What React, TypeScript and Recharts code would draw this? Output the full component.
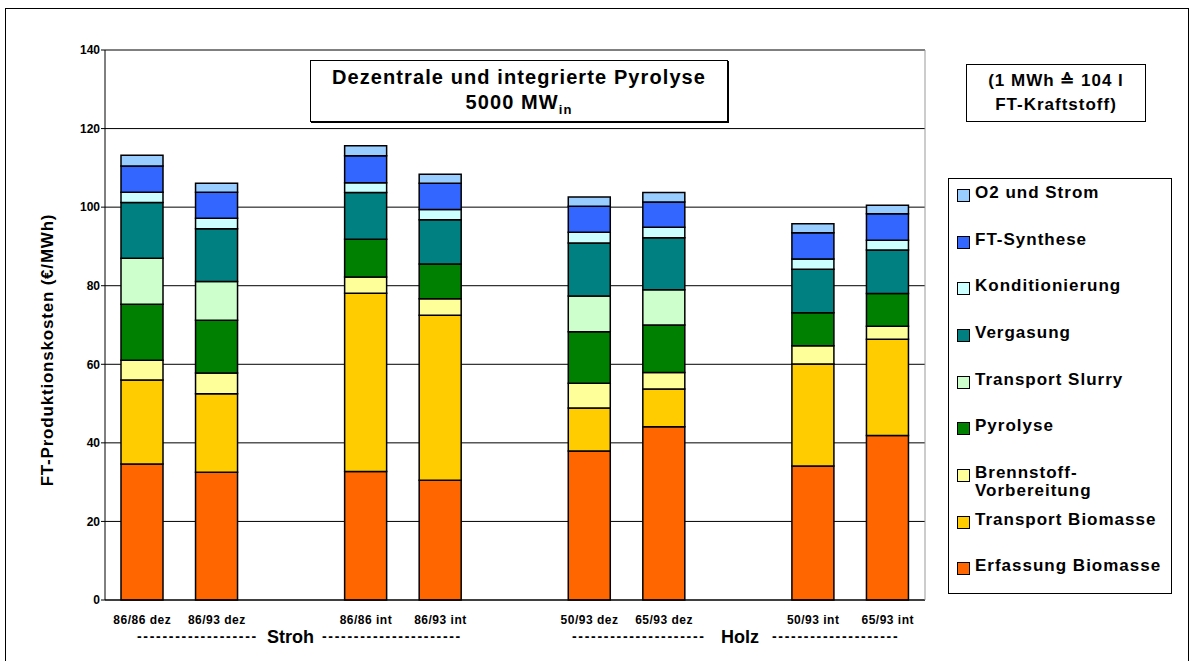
import React from 'react';
import { BarChart, Bar, XAxis, YAxis, CartesianGrid } from 'recharts';

const categories = ['86/86 dez', '86/93 dez', ' ', '86/86 int', '86/93 int', '  ', '50/93 dez', '65/93 dez', '   ', '50/93 int', '65/93 int'];

const erfassung = [34.6, 32.5, null, 32.7, 30.5, null, 37.9, 44.1, null, 34.1, 41.9];
const transportBio = [21.4, 20.0, null, 45.4, 42.0, null, 11.0, 9.6, null, 26.0, 24.5];
const brennstoff = [5.0, 5.3, null, 4.1, 4.2, null, 6.3, 4.2, null, 4.6, 3.3];
const pyrolyse = [14.3, 13.4, null, 9.6, 8.8, null, 13.1, 12.1, null, 8.4, 8.3];
const slurry = [11.7, 9.9, null, 0, 0, null, 9.1, 9.0, null, 0, 0];
const vergasung = [14.2, 13.4, null, 11.9, 11.3, null, 13.5, 13.2, null, 11.1, 11.1];
const kondition = [2.6, 2.7, null, 2.5, 2.6, null, 2.7, 2.7, null, 2.6, 2.5];
const ftSynthese = [6.7, 6.6, null, 6.9, 6.7, null, 6.6, 6.4, null, 6.7, 6.7];
const o2Strom = [2.7, 2.3, null, 2.5, 2.3, null, 2.4, 2.4, null, 2.3, 2.2];

const yTicks = [0, 20, 40, 60, 80, 100, 120, 140];

const series = [
  { key: 'erf', name: 'Erfassung Biomasse', color: '#FF6600', values: erfassung },
  { key: 'tb', name: 'Transport Biomasse', color: '#FFCC00', values: transportBio },
  { key: 'bv', name: 'Brennstoff-\nVorbereitung', color: '#FFFF99', values: brennstoff },
  { key: 'py', name: 'Pyrolyse', color: '#008000', values: pyrolyse },
  { key: 'ts', name: 'Transport Slurry', color: '#CCFFCC', values: slurry },
  { key: 'vg', name: 'Vergasung', color: '#008080', values: vergasung },
  { key: 'ko', name: 'Konditionierung', color: '#CCFFFF', values: kondition },
  { key: 'ft', name: 'FT-Synthese', color: '#3366FF', values: ftSynthese },
  { key: 'o2', name: 'O2 und Strom', color: '#99CCFF', values: o2Strom },
];

const data = categories.map((c, i) => {
  const row: any = { cat: c };
  series.forEach((s) => {
    row[s.key] = s.values[i];
  });
  return row;
});

const FONT = 'Arial, "Liberation Sans", Helvetica, sans-serif';

const legendTops = [183, 230, 276, 323, 370, 416, 463, 510, 556];

const dashStyle: React.CSSProperties = { position: 'absolute', top: 628, whiteSpace: 'pre', fontWeight: 700, fontSize: 14, letterSpacing: 1.7, lineHeight: '16px' };
const groupStyle: React.CSSProperties = { position: 'absolute', top: 627, whiteSpace: 'pre', fontWeight: 700, fontSize: 18, lineHeight: '20px' };

export default function App() {
  const legendItems = [...series].reverse();
  return (
    <div style={{ position: 'absolute', left: 0, top: 0, width: 1195, height: 661, background: '#fff', fontFamily: FONT, overflow: 'hidden' }}>
      <div style={{ position: 'absolute', left: 5, top: 8, width: 1184, height: 660, border: '1px solid #000', boxSizing: 'border-box' }} />
      <div style={{ position: 'absolute', left: 0, top: 0 }}>
        <BarChart width={1195} height={661} data={data} margin={{ top: 50, right: 269, bottom: 31, left: 65 }} barSize={42}>
          <CartesianGrid vertical={false} stroke="#000" strokeWidth={1} />
          <XAxis
            dataKey="cat"
            tickLine={false}
            axisLine={{ stroke: '#000' }}
            tickMargin={9}
            interval={0}
            tick={{ fill: '#000', fontSize: 12, fontWeight: 700, fontFamily: FONT, letterSpacing: 0.5 }}
            height={30}
          />
          <YAxis
            domain={[0, 140]}
            ticks={yTicks}
            width={40}
            axisLine={{ stroke: '#000' }}
            tickLine={{ stroke: '#000' }}
            tickSize={4}
            tickMargin={1}
            tick={{ fill: '#000', fontSize: 12, fontWeight: 700, fontFamily: FONT }}
            interval={0}
          />
          <YAxis yAxisId="r" orientation="right" width={1} tick={false} tickLine={false} axisLine={{ stroke: '#999' }} />
          {series.map((s) => (
            <Bar key={s.key} dataKey={s.key} name={s.name} stackId="a" fill={s.color} stroke="#000" strokeWidth={1.5} isAnimationActive={false} />
          ))}
        </BarChart>
      </div>

      <div style={{ position: 'absolute', left: 48, top: 350, width: 0, height: 0 }}>
        <div style={{ position: 'absolute', left: 0, top: 0, transform: 'translate(-50%, -50%) rotate(-90deg)', whiteSpace: 'nowrap', fontSize: 17, fontWeight: 700, letterSpacing: 0.8 }}>
          FT-Produktionskosten (€/MWh)
        </div>
      </div>

      <div style={{ position: 'absolute', left: 310, top: 60, width: 418, height: 62, border: '1px solid #000', boxShadow: '1px 1px 0 #000', background: '#fff', boxSizing: 'border-box', textAlign: 'center', fontWeight: 700, fontSize: 20, letterSpacing: 1.1, lineHeight: '25px', paddingTop: 4 }}>
        <div>Dezentrale und integrierte Pyrolyse</div>
        <div>5000 MW<sub style={{ fontSize: 13 }}>in</sub></div>
      </div>

      <div style={{ position: 'absolute', left: 966, top: 64, width: 180, height: 58, border: '1px solid #000', boxSizing: 'border-box', textAlign: 'center', fontWeight: 700, fontSize: 17, letterSpacing: 1, lineHeight: '24px', paddingTop: 4 }}>
        <div>(1 MWh ≙ 104 l</div>
        <div>FT-Kraftstoff)</div>
      </div>

      <div style={{ position: 'absolute', left: 948, top: 178, width: 224, height: 416, border: '1px solid #000', boxSizing: 'border-box' }}>
        {legendItems.map((s, i) => (
          <div key={s.key} style={{ position: 'absolute', left: 8, top: legendTops[i] - 178, display: 'flex', alignItems: 'flex-start' }}>
            <div style={{ width: 11, height: 11, background: s.color, border: '1px solid #000', marginTop: 5, marginRight: 5, flex: 'none' }} />
            <div style={{ fontSize: 17, fontWeight: 700, letterSpacing: 1, lineHeight: '18px', whiteSpace: 'pre' }}>{s.name}</div>
          </div>
        ))}
      </div>

      <div style={{ ...dashStyle, left: 137 }}>-------------------</div>
      <div style={{ ...groupStyle, left: 267 }}>Stroh</div>
      <div style={{ ...dashStyle, left: 322 }}>----------------------</div>

      <div style={{ ...dashStyle, left: 572 }}>---------------------</div>
      <div style={{ ...groupStyle, left: 721 }}>Holz</div>
      <div style={{ ...dashStyle, left: 772 }}>--------------------</div>
    </div>
  );
}
